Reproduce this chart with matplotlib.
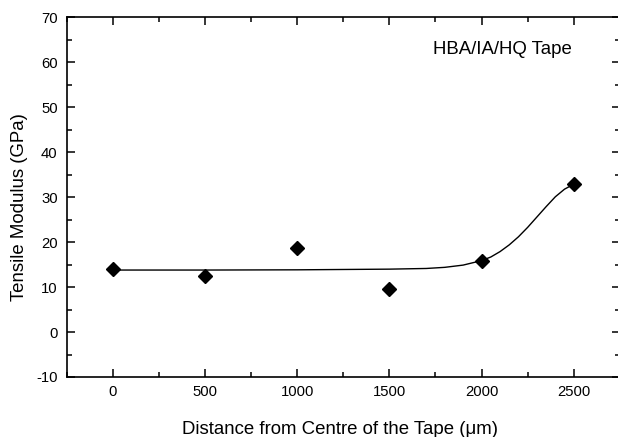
import matplotlib
matplotlib.use("Agg")
import matplotlib.pyplot as plt
from matplotlib.ticker import MultipleLocator

plt.rcParams['font.family'] = ['Liberation Sans', 'DejaVu Sans']
plt.rcParams['axes.unicode_minus'] = False

# measured data
distance = [0, 500, 1000, 1500, 2000, 2500]
modulus = [14.0, 12.5, 18.8, 9.5, 15.9, 32.9]

# fitted curve
fit_x = [0, 500, 1000, 1500, 1700, 1800, 1900, 2000, 2050, 2100, 2150,
         2200, 2250, 2300, 2350, 2400, 2450, 2500]
fit_y = [13.8, 13.8, 13.85, 14.0, 14.15, 14.4, 14.9, 15.9, 16.7, 17.9, 19.4,
         21.2, 23.3, 25.6, 27.9, 30.1, 31.8, 32.9]

x_ticks = [0, 500, 1000, 1500, 2000, 2500]
y_ticks = [-10, 0, 10, 20, 30, 40, 50, 60, 70]

fig = plt.figure(figsize=(6.18, 4.37), dpi=100)
ax = fig.add_axes([0.108, 0.1373, 1.003 - 0.108, 0.96 - 0.1373])

ax.plot(fit_x, fit_y, color='black', lw=1.0)
ax.plot(distance, modulus, linestyle='none', marker='D', ms=7.5,
        color='black')

ax.set_xlim(-250, 2750)
ax.set_ylim(-10, 70)
ax.set_xticks(x_ticks)
ax.set_yticks(y_ticks)
ax.xaxis.set_minor_locator(MultipleLocator(250))
ax.yaxis.set_minor_locator(MultipleLocator(5))
ax.tick_params(which='both', direction='in', top=True, right=True,
               width=1.1, labelsize=10.7)
ax.tick_params(axis='x', which='major', pad=5.5)
ax.tick_params(axis='y', which='major', pad=6.5)
ax.tick_params(which='major', length=6)
ax.tick_params(which='minor', length=3.5)
for s in ax.spines.values():
    s.set_linewidth(1.2)

fig.text(340 / 618, 1 - 429 / 437,
         'Distance from Centre of the Tape (\u03bcm)', fontsize=13.4,
         ha='center', va='center')
fig.text(20 / 618, 1 - 207 / 437, 'Tensile Modulus (GPa)', fontsize=13.4,
         ha='center', va='center', rotation=90)

ax.text(1734, 62.8, 'HBA/IA/HQ Tape', fontsize=13.4, ha='left', va='center')

fig.savefig('out.png', dpi=100)
